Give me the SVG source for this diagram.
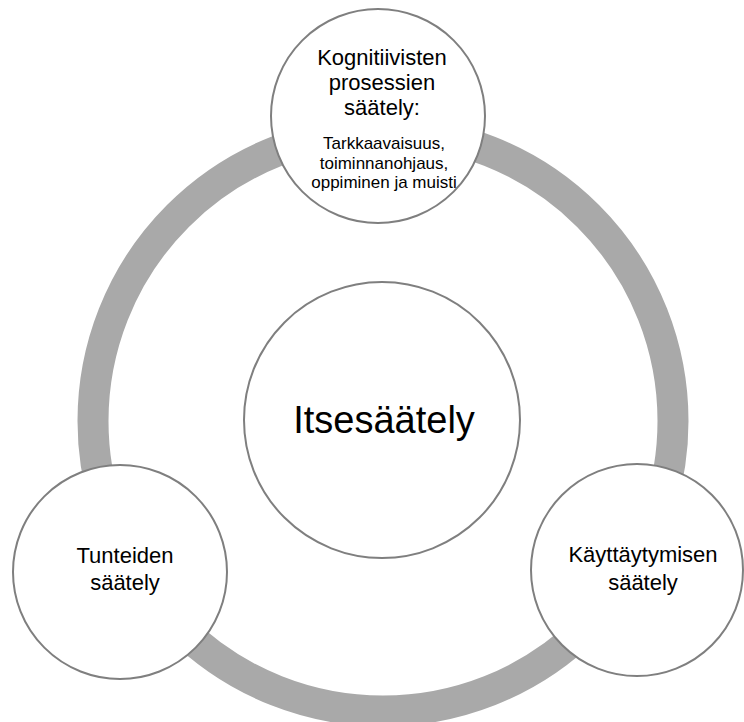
<svg xmlns="http://www.w3.org/2000/svg" width="744" height="722" viewBox="0 0 744 722">
<style>
.node{fill:#FFFFFF;stroke:#7F7F7F;stroke-width:2}
.t{font-family:"Liberation Sans",Arial,sans-serif;fill:#000000;text-anchor:middle}
</style>
<rect width="744" height="722" fill="#FFFFFF"/>
<g id="connectors">
<circle cx="383" cy="421" r="290" fill="none" stroke="#A9A9A9" stroke-width="31"/>
</g>
<g id="center">
<circle class="node" cx="382" cy="420" r="138"/>
<text class="t" x="384" y="433" font-size="38">Itsesäätely</text>
</g>
<g id="top">
<circle class="node" cx="378" cy="116" r="107"/>
<text class="t" x="382" y="65" font-size="22">Kognitiivisten</text>
<text class="t" x="382" y="90" font-size="22">prosessien</text>
<text class="t" x="382" y="115" font-size="22">säätely:</text>
<text class="t" x="384" y="149" font-size="17">Tarkkaavaisuus,</text>
<text class="t" x="384" y="169" font-size="17">toiminnanohjaus,</text>
<text class="t" x="384" y="188" font-size="17">oppiminen ja muisti</text>
</g>
<g id="left">
<circle class="node" cx="120" cy="572" r="107"/>
<text class="t" x="125" y="563" font-size="22">Tunteiden</text>
<text class="t" x="125" y="590" font-size="22">säätely</text>
</g>
<g id="right">
<circle class="node" cx="637" cy="570" r="106"/>
<text class="t" x="643" y="562" font-size="22">Käyttäytymisen</text>
<text class="t" x="643" y="590" font-size="22">säätely</text>
</g>
</svg>
